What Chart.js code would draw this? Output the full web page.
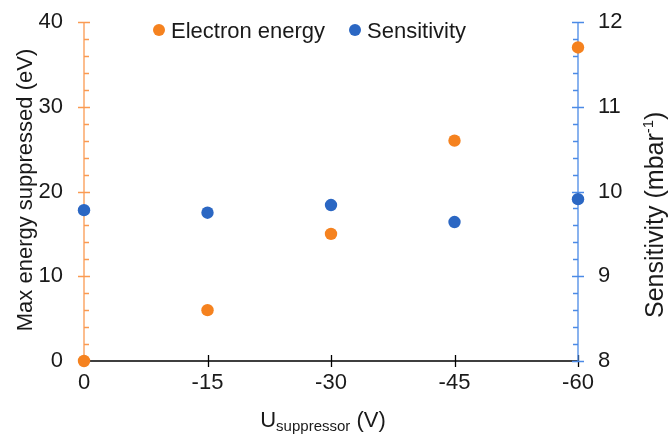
<!DOCTYPE html>
<html>
<head>
<meta charset="utf-8">
<script src="https://cdn.jsdelivr.net/npm/chart.js@4/dist/chart.umd.min.js"></script>
<style>
  html, body { margin: 0; padding: 0; background: #fff; }
  #wrap { width: 668px; height: 435px; position: relative; }
</style>
</head>
<body>
<div id="wrap"><canvas id="chart"></canvas></div>
<script>
// Data
const uSuppressor = [0, -15, -30, -45, -60];          // V
const electronEnergy = [0, 6, 15, 26, 37];             // eV
const sensitivity = [9.78, 9.75, 9.84, 9.64, 9.91];    // mbar^-1
const xTickValues = [0, -15, -30, -45, -60];
const leftTickValues = [0, 10, 20, 30, 40];
const rightTickValues = [8, 9, 10, 11, 12];
const seriesNames = ['Electron energy', 'Sensitivity'];

// Colours / fonts
const orange = '#F5821F', orangeAxis = '#FA9A52';
const blue = '#2B67C3', blueAxis = '#4B8AE6';
const textColor = '#1a1a1a';
const family = '"Liberation Sans", Arial, sans-serif';
const fontSize = 22;

// axis lines, major + minor ticks (drawn under the points)
const axesPlugin = {
  id: 'axes',
  beforeDatasetsDraw(chart) {
    const ctx = chart.ctx;
    const { x, y, y1 } = chart.scales;
    const a = chart.chartArea;
    ctx.save();
    ctx.lineWidth = 1.3;

    // x axis
    ctx.strokeStyle = '#000';
    ctx.beginPath();
    ctx.moveTo(a.left, a.bottom);
    ctx.lineTo(a.right, a.bottom);
    xTickValues.forEach(v => {
      const px = Math.round(x.getPixelForValue(v)) + 0.5;
      ctx.moveTo(px, a.bottom - 6);
      ctx.lineTo(px, a.bottom + 6);
    });
    ctx.stroke();

    // left axis (orange)
    ctx.strokeStyle = orangeAxis;
    ctx.beginPath();
    ctx.moveTo(a.left, a.top);
    ctx.lineTo(a.left, a.bottom);
    for (let v = 0; v <= 40; v += 2) {
      const py = Math.round(y.getPixelForValue(v)) + 0.5;
      if (v % 10 === 0) { ctx.moveTo(a.left - 6, py); ctx.lineTo(a.left + 6, py); }
      else { ctx.moveTo(a.left, py); ctx.lineTo(a.left + 5, py); }
    }
    ctx.stroke();

    // right axis (blue)
    ctx.strokeStyle = blueAxis;
    ctx.beginPath();
    ctx.moveTo(a.right, a.top);
    ctx.lineTo(a.right, a.bottom);
    for (let i = 0; i <= 20; i++) {
      const v = 8 + i * 0.2;
      const py = Math.round(y1.getPixelForValue(v)) + 0.5;
      if (i % 5 === 0) { ctx.moveTo(a.right - 6, py); ctx.lineTo(a.right + 6, py); }
      else { ctx.moveTo(a.right - 5, py); ctx.lineTo(a.right, py); }
    }
    ctx.stroke();
    ctx.restore();
  }
};

// legend + axis titles (need sub/superscripts)
const textPlugin = {
  id: 'texts',
  afterDraw(chart) {
    const ctx = chart.ctx;
    ctx.save();
    ctx.fillStyle = textColor;
    ctx.textBaseline = 'alphabetic';
    ctx.font = fontSize + 'px ' + family;

    // legend
    const colors = [orange, blue];
    const dotX = [159, 355];
    seriesNames.forEach((name, i) => {
      ctx.fillStyle = colors[i];
      ctx.beginPath();
      ctx.arc(dotX[i], 30, 6, 0, Math.PI * 2);
      ctx.fill();
      ctx.fillStyle = textColor;
      ctx.textAlign = 'left';
      ctx.fillText(name, dotX[i] + 12, 38);
    });

    // left title
    ctx.save();
    ctx.translate(32, 190);
    ctx.rotate(-Math.PI / 2);
    ctx.textAlign = 'center';
    ctx.fillText('Max energy suppressed (eV)', 0, 0);
    ctx.restore();

    // right title: Sensitivity (mbar^-1)
    ctx.save();
    ctx.translate(663, 318);
    ctx.rotate(-Math.PI / 2);
    ctx.textAlign = 'left';
    ctx.font = '25px ' + family;
    let t = 'Sensitivity (mbar';
    ctx.fillText(t, 0, 0);
    let w = ctx.measureText(t).width;
    ctx.font = '15px ' + family;
    ctx.fillText('-1', w, -10);
    w += ctx.measureText('-1').width;
    ctx.font = '25px ' + family;
    ctx.fillText(')', w, 0);
    ctx.restore();

    // x title: U_suppressor (V)
    const parts = [['U', fontSize, 0], ['suppressor', 15, 4], [' (V)', fontSize, 0]];
    let total = 0;
    parts.forEach(p => { ctx.font = p[1] + 'px ' + family; total += ctx.measureText(p[0]).width; });
    let tx = 323 - total / 2;
    ctx.textAlign = 'left';
    parts.forEach(p => {
      ctx.font = p[1] + 'px ' + family;
      ctx.fillText(p[0], tx, 427 + p[2]);
      tx += ctx.measureText(p[0]).width;
    });
    ctx.restore();
  }
};

const tickFont = { family: family, size: fontSize };
const noVPad = s => { s.paddingTop = 0; s.paddingBottom = 0; };

new Chart(document.getElementById('chart'), {
  type: 'scatter',
  data: {
    datasets: [
      {
        label: seriesNames[0],
        data: uSuppressor.map((u, i) => ({ x: u, y: electronEnergy[i] })),
        yAxisID: 'y',
        backgroundColor: orange,
        borderColor: orange,
        pointRadius: 6.2,
        pointHoverRadius: 6.2,
        borderWidth: 0,
        clip: false
      },
      {
        label: seriesNames[1],
        data: uSuppressor.map((u, i) => ({ x: u, y: sensitivity[i] })),
        yAxisID: 'y1',
        backgroundColor: blue,
        borderColor: blue,
        pointRadius: 6.2,
        pointHoverRadius: 6.2,
        borderWidth: 0,
        clip: false
      }
    ]
  },
  options: {
    responsive: true,
    maintainAspectRatio: false,
    animation: false,
    layout: { padding: { top: 22, left: 0, right: 0, bottom: 0 } },
    plugins: { legend: { display: false }, tooltip: { enabled: false } },
    scales: {
      x: {
        type: 'linear',
        reverse: true,
        min: -60,
        max: 0,
        afterBuildTicks: s => { s.ticks = xTickValues.map(v => ({ value: v })); },
        afterFit: s => { s.height = 74; s.paddingLeft = 0; s.paddingRight = 0; },
        grid: { display: false, drawTicks: false },
        border: { display: false },
        ticks: { font: tickFont, color: textColor, padding: 9, maxRotation: 0 }
      },
      y: {
        position: 'left',
        min: 0,
        max: 40,
        afterBuildTicks: s => { s.ticks = leftTickValues.map(v => ({ value: v })); },
        afterFit: s => { s.width = 84; noVPad(s); },
        grid: { display: false, drawTicks: false },
        border: { display: false },
        ticks: { font: tickFont, color: textColor, padding: 21 }
      },
      y1: {
        position: 'right',
        min: 8,
        max: 12,
        afterBuildTicks: s => { s.ticks = rightTickValues.map(v => ({ value: v })); },
        afterFit: s => { s.width = 90; noVPad(s); },
        grid: { display: false, drawTicks: false },
        border: { display: false },
        ticks: { font: tickFont, color: textColor, padding: 20 }
      }
    }
  },
  plugins: [axesPlugin, textPlugin]
});
</script>
</body>
</html>
